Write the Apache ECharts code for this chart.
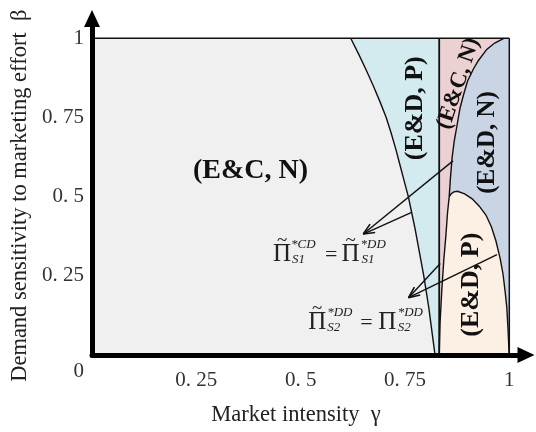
<!DOCTYPE html>
<html><head><meta charset="utf-8">
<script src="https://cdn.jsdelivr.net/npm/echarts@6/dist/echarts.min.js"></script>
<style>html,body{margin:0;padding:0;background:#fff}#c{width:536px;height:432px}</style>
</head><body><div id="c"></div>
<script>
// ---------- data (γ, β) ----------
const gammaTicks = [0, 0.25, 0.5, 0.75, 1];
const betaTicks = [0, 0.25, 0.5, 0.75, 1];
const tickLabels = ['0', '0. 25', '0. 5', '0. 75', '1'];
const verticalBoundary = 0.832;
// boundary between (E&C,N) grey and (E&D,P) light blue, top -> bottom
const curveGreyBlue = [[0.620,1],[0.639,0.95],[0.657,0.90],[0.674,0.85],[0.690,0.80],[0.705,0.75],[0.717,0.70],[0.728,0.65],[0.738,0.60],[0.748,0.55],[0.758,0.50],[0.766,0.45],[0.774,0.40],[0.781,0.35],[0.788,0.30],[0.795,0.25],[0.801,0.20],[0.807,0.15],[0.812,0.10],[0.817,0.05],[0.822,0]];
// boundary between pink (E&C,N) and blue (E&D,N), top -> bottom
const curvePinkBlue = [[0.987,1],[0.965,0.985],[0.946,0.965],[0.926,0.93],[0.914,0.903],[0.900,0.865],[0.890,0.82],[0.882,0.78],[0.875,0.727],[0.868,0.675],[0.863,0.624],[0.859,0.56],[0.856,0.50],[0.852,0.45],[0.848,0.377],[0.843,0.30],[0.838,0.20],[0.834,0.10],[0.832,0]];
// upper boundary of peach (E&D,P), left -> right
const curvePeachTop = [[0.856,0.50],[0.861,0.509],[0.867,0.515],[0.876,0.517],[0.893,0.509],[0.911,0.493],[0.928,0.47],[0.944,0.442],[0.957,0.405],[0.968,0.36],[0.978,0.305],[0.985,0.255],[0.990,0.20],[0.994,0.15],[0.997,0.08],[0.999,0.02],[1.0,0]];
const regionNames = ['(E&C, N)', '(E&D, P)', '(E&C, N)', '(E&D, N)', '(E&D, P)'];
// arrows: tip and the two boundary points they come from
const arrowTips = [[0.650,0.382],[0.7585,0.181]];
const arrowTails = [[[0.865,0.613],[0.766,0.45]], [[0.8345,0.289],[0.9705,0.317]]];

// ---------- layout / style ----------
const colors = {grey:'#f0f0f0', lightBlue:'#d3eaef', pink:'#ebd1d1', blueGrey:'#c9d5e5', peach:'#fcefe4'};
const regionLabelLayout = [
  {at:[0.380,0.583], rot:0, size:28},
  {at:[0.775,0.779], rot:90, size:26},
  {at:[0.878,0.857], rot:71.6, size:23},
  {at:[0.947,0.671], rot:90, size:25},
  {at:[0.909,0.222], rot:90, size:26}
];
const SERIF = '"Liberation Serif", "Times New Roman", serif';
// math expressions: anchor (data coords, left-middle of first Π) and pieces in px offsets
const mathExprs = [
  {at:[0.434,0.319], pieces:[
    {t:'Π',dx:0,dy:0,s:25},{t:'~',dx:9,dy:-13,s:19,c:1},
    {t:'*CD',dx:18,dy:-9,s:13,i:1},{t:'S1',dx:19,dy:6,s:13,i:1},
    {t:'=',dx:52,dy:1,s:22},
    {t:'Π',dx:68.5,dy:0,s:25},{t:'~',dx:77.5,dy:-13,s:19,c:1},
    {t:'*DD',dx:87.5,dy:-9,s:13,i:1},{t:'S1',dx:88.5,dy:6,s:13,i:1}
  ]},
  {at:[0.518,0.104], pieces:[
    {t:'Π',dx:0,dy:0,s:25},{t:'~',dx:9,dy:-13,s:19,c:1},
    {t:'*DD',dx:19,dy:-9,s:13,i:1},{t:'S2',dx:19,dy:6,s:13,i:1},
    {t:'=',dx:52,dy:1,s:22},
    {t:'Π',dx:70,dy:0,s:25},
    {t:'*DD',dx:89.5,dy:-9,s:13,i:1},{t:'S2',dx:89.5,dy:6,s:13,i:1}
  ]}
];

function labelFor(v){
  for (let i=0;i<gammaTicks.length;i++) if (Math.abs(v-gammaTicks[i])<1e-6) return tickLabels[i];
  return '';
}

function renderAll(params, api){
  const P = p => api.coord(p);
  const vx = verticalBoundary;
  const children = [];
  const poly = (pts, fill) => children.push({type:'polygon', shape:{points:pts.map(P)}, style:{fill:fill, stroke:fill, lineWidth:0.5}});
  const line = (pts, w) => children.push({type:'polyline', shape:{points:pts.map(P)}, style:{stroke:'#111', lineWidth:w, fill:null}});

  poly([[0,0],[0,1]].concat(curveGreyBlue), colors.grey);
  poly(curveGreyBlue.concat([[vx,0],[vx,1]]), colors.lightBlue);
  poly([[vx,1],[vx,0]].concat(curvePinkBlue.slice().reverse()), colors.pink);
  poly(curvePinkBlue.concat([[1,0],[1,1]]), colors.blueGrey);
  poly(curvePeachTop.concat([[vx,0]]).concat(curvePinkBlue.filter(p=>p[1]<0.5).reverse()), colors.peach);

  line(curveGreyBlue, 1.4);
  line(curvePinkBlue, 1.4);
  line(curvePeachTop, 1.4);
  line([[vx,0],[vx,1]], 1.8);
  line([[0,1],[1,1]], 1.5);
  line([[1,0],[1,1]], 1.5);

  // region labels
  regionNames.forEach((name,i)=>{
    const L = regionLabelLayout[i]; const p = P(L.at);
    children.push({type:'text', x:p[0], y:p[1], rotation:L.rot*Math.PI/180,
      style:{text:name, fontFamily:SERIF, fontWeight:'bold', fontSize:L.size, fill:'#111', align:'center', verticalAlign:'middle'}});
  });

  // arrows
  arrowTips.forEach((tip,k)=>{
    const t = P(tip);
    arrowTails[k].forEach(tail=>{
      const a = P(tail);
      children.push({type:'line', shape:{x1:a[0],y1:a[1],x2:t[0],y2:t[1]}, style:{stroke:'#111', lineWidth:1.4}});
    });
    const a1 = P(arrowTails[k][0]), a2 = P(arrowTails[k][1]);
    const ang1 = Math.atan2(a1[1]-t[1], a1[0]-t[0]), ang2 = Math.atan2(a2[1]-t[1], a2[0]-t[0]);
    const mid = (ang1+ang2)/2, spread = 24*Math.PI/180, len = 12;
    [mid-spread, mid+spread].forEach(g=>{
      children.push({type:'line', shape:{x1:t[0],y1:t[1],x2:t[0]+len*Math.cos(g),y2:t[1]+len*Math.sin(g)}, style:{stroke:'#111', lineWidth:1.6}});
    });
  });

  // math expressions
  mathExprs.forEach(ex=>{
    const o = P(ex.at);
    ex.pieces.forEach(pc=>{
      children.push({type:'text', x:o[0]+pc.dx, y:o[1]+pc.dy,
        style:{text:pc.t, fontFamily:SERIF, fontSize:pc.s, fontStyle:pc.i?'italic':'normal', fill:'#222',
          align:pc.c?'center':'left', verticalAlign:'middle'}});
    });
  });

  return {type:'group', children:children};
}

const chart = echarts.init(document.getElementById('c'), null, {renderer:'canvas'});
chart.setOption({
  backgroundColor:'#fff',
  animation:false,
  grid:{left:92, right:10, top:18.5, bottom:70.3, containLabel:false},
  xAxis:{type:'value', min:0, max:1.04, interval:0.25, z:10,
    splitLine:{show:false}, axisTick:{show:false},
    axisLine:{show:true, onZero:false, lineStyle:{color:'#000', width:5}, symbol:['none','triangle'], symbolSize:[16,17]},
    axisLabel:{formatter:v=> (v===0? '' : labelFor(v)), fontFamily:SERIF, fontSize:21, color:'#333', margin:15, showMaxLabel:false},
    name:'Market intensity  γ', nameLocation:'middle', nameGap:49,
    nameTextStyle:{fontFamily:SERIF, fontSize:22.5, color:'#222', padding:[0,26,0,0]}
  },
  yAxis:{type:'value', min:0, max:1.0625, interval:0.25, z:10,
    splitLine:{show:false}, axisTick:{show:false},
    axisLine:{show:true, onZero:false, lineStyle:{color:'#000', width:5}, symbol:['none','triangle'], symbolSize:[16,17]},
    axisLabel:{formatter:v=> (v===0? '\n0' : labelFor(v)), fontFamily:SERIF, fontSize:21, color:'#333', margin:8, lineHeight:32, showMaxLabel:false},
    name:'Demand sensitivity to marketing effort  β', nameLocation:'middle', nameGap:46,
    nameTextStyle:{fontFamily:SERIF, fontSize:22.5, color:'#222', padding:[0,18,0,0]}
  },
  series:[{type:'custom', coordinateSystem:'cartesian2d', data:[[0,0]], renderItem:renderAll, silent:true, z:2}]
});
</script></body></html>
